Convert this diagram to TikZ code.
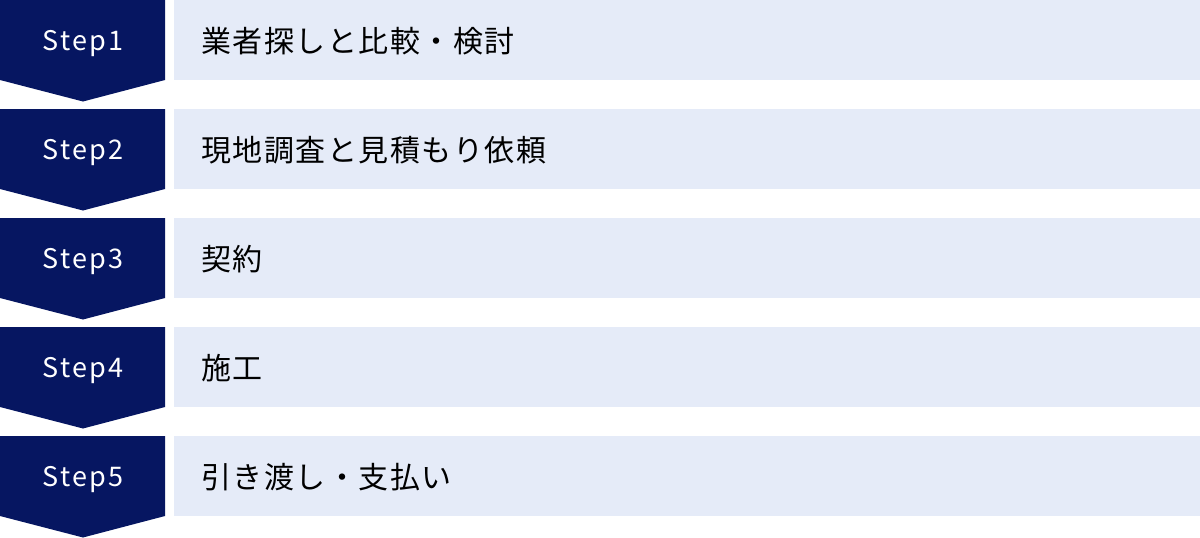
\documentclass[tikz,border=0pt]{standalone}
\usepackage{fontspec}
\setmainfont{Noto Sans CJK JP}
\newfontfamily\stepfont[LetterSpace=9]{Noto Sans CJK JP}
\newfontfamily\jpfont[LetterSpace=5]{Noto Sans CJK JP}
\definecolor{navy}{HTML}{061661}
\definecolor{pale}{HTML}{E5EBF8}
\begin{document}
\begin{tikzpicture}[x=1pt,y=-1pt,
  stepshape/.style={fill=navy},
  barshape/.style={fill=pale},
  steplabel/.style={text=white,font=\stepfont\fontsize{27}{32}\selectfont,inner sep=0pt,anchor=base},
  barlabel/.style={text=black,font=\jpfont\fontsize{30}{36}\selectfont,inner sep=0pt,anchor=west}]
\useasboundingbox (0,0) rectangle (1200,538);
\foreach \i/\t in {1/業者探しと比較・検討,2/現地調査と見積もり依頼,3/契約,4/施工,5/引き渡し・支払い}{
  \pgfmathsetmacro{\yy}{(\i-1)*109}
  \fill[stepshape] (0,\yy) -- (165,\yy) -- (165,\yy+80) -- (83,\yy+101.5) -- (0,\yy+80) -- cycle;
  \fill[barshape] (174,\yy) rectangle (1200,\yy+80);
  \node[steplabel] (s\i) at (83,\yy+50.5) {Step\i};
  \node[barlabel] (b\i) at (201,\yy+41) {\t};
}
\end{tikzpicture}
\end{document}
